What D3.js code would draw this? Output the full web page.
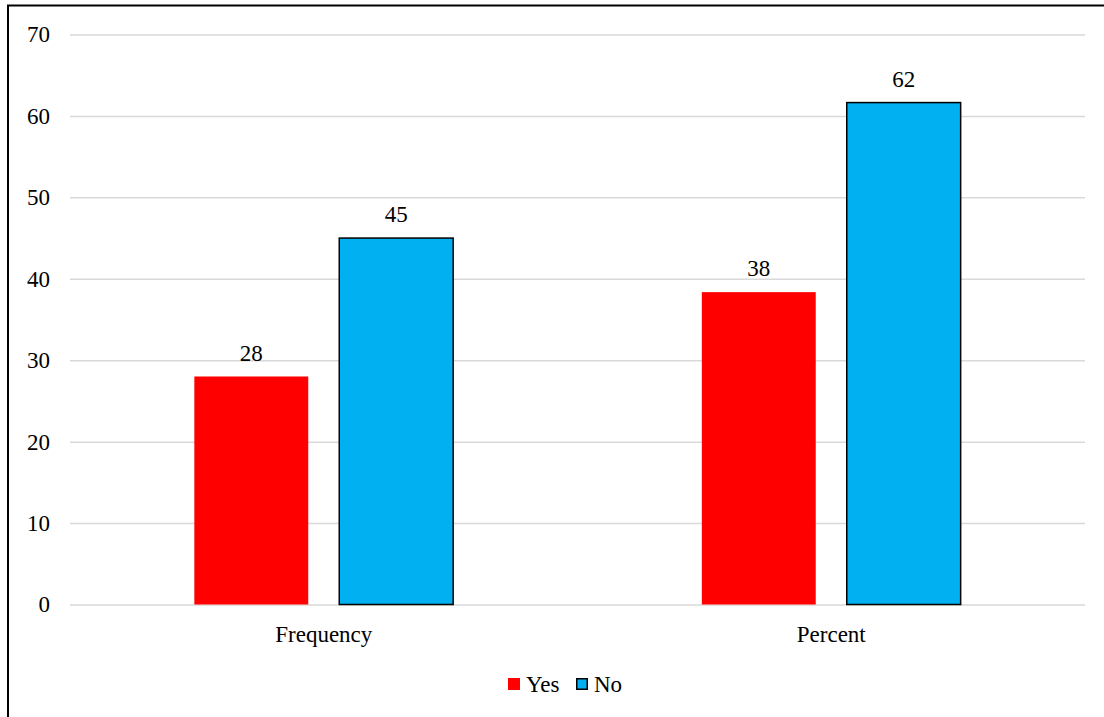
<!DOCTYPE html>
<html>
<head>
<meta charset="utf-8">
<script src="https://cdn.jsdelivr.net/npm/d3@7"></script>
<style>
  html, body { margin: 0; padding: 0; background: #fff; }
  svg { display: block; }
  svg text { font-family: "Liberation Serif", "Times New Roman", serif; fill: #000; }
</style>
</head>
<body>
<svg id="chart" width="1104" height="717"></svg>
<script>
// Categories, series and tick labels
const categories = ["Frequency", "Percent"];
const seriesNames = ["Yes", "No"];
const yesValues = [28, 38.36];
const noValues = [45, 61.64];
const yTicks = [0, 10, 20, 30, 40, 50, 60, 70];
const seriesColors = ["#FF0000", "#00B0F0"];

const rows = categories.map((c, i) => ({
  category: c,
  values: [
    { key: seriesNames[0], value: yesValues[i] },
    { key: seriesNames[1], value: noValues[i] }
  ]
}));

const W = 1104, H = 717;
const FONT = '"Liberation Serif", "Times New Roman", serif';
const FS = 23;
const margin = { left: 70, right: 19, top: 34.5, bottom: 112.5 };
const svg = d3.select("#chart");

// Outer frame (right and bottom edges run past the canvas)
svg.append("rect")
  .attr("x", 8).attr("y", 5.5)
  .attr("width", 1200).attr("height", 800)
  .attr("fill", "none").attr("stroke", "#000").attr("stroke-width", 2);

const x0 = d3.scaleBand()
  .domain(categories)
  .range([margin.left, W - margin.right])
  .paddingInner(0.49)
  .paddingOuter(0.245);

const x1 = d3.scaleBand()
  .domain(seriesNames)
  .range([0, x0.bandwidth()])
  .paddingInner(0.214);

const y = d3.scaleLinear()
  .domain([0, 70])
  .range([H - margin.bottom, margin.top]);

const color = d3.scaleOrdinal().domain(seriesNames).range(seriesColors);

// Gridlines and y-axis labels
const yAxis = d3.axisLeft(y)
  .tickValues(yTicks)
  .tickSize(-(W - margin.left - margin.right))
  .tickPadding(20)
  .tickFormat(d3.format("d"));

const gy = svg.append("g")
  .attr("transform", `translate(${margin.left},0)`)
  .call(yAxis);
gy.select(".domain").remove();
gy.selectAll(".tick line").attr("stroke", "#d9d9d9").attr("stroke-width", 1.5);
gy.selectAll(".tick text")
  .style("font-family", FONT)
  .style("font-size", FS + "px")
  .attr("fill", "#000");

// Bars
const groups = svg.append("g").selectAll("g")
  .data(rows)
  .join("g")
  .attr("transform", d => `translate(${x0(d.category)},0)`);

groups.selectAll("rect")
  .data(d => d.values)
  .join("rect")
  .attr("x", d => x1(d.key))
  .attr("y", d => y(d.value))
  .attr("width", x1.bandwidth())
  .attr("height", d => y(0) - y(d.value))
  .attr("fill", d => color(d.key))
  .attr("stroke", d => d.key === "No" ? "#000" : "none")
  .attr("stroke-width", 1.5);

// Value labels
groups.selectAll("text.val")
  .data(d => d.values)
  .join("text")
  .attr("class", "val")
  .attr("x", d => x1(d.key) + x1.bandwidth() / 2)
  .attr("y", d => y(d.value) - 16)
  .attr("text-anchor", "middle")
  .style("font-family", FONT)
  .style("font-size", FS + "px")
  .text(d => d3.format(".0f")(d.value));

// Category axis labels
const xAxis = d3.axisBottom(x0).tickSize(0).tickPadding(21);
const gx = svg.append("g")
  .attr("transform", `translate(0,${y(0)})`)
  .call(xAxis);
gx.select(".domain").remove();
gx.selectAll(".tick text")
  .style("font-family", FONT)
  .style("font-size", FS + "px")
  .attr("fill", "#000");

// Legend
const legend = svg.append("g").attr("transform", "translate(508,678)");
const legendOffsets = [0, 68];
const items = legend.selectAll("g")
  .data(seriesNames)
  .join("g")
  .attr("transform", (d, i) => `translate(${legendOffsets[i]},0)`);
items.append("rect")
  .attr("x", d => d === "No" ? 0.75 : 0)
  .attr("y", d => d === "No" ? 0.75 : 0)
  .attr("width", d => d === "No" ? 10.5 : 12)
  .attr("height", d => d === "No" ? 10.5 : 12)
  .attr("fill", d => color(d))
  .attr("stroke", d => d === "No" ? "#000" : "none")
  .attr("stroke-width", 1.5);
items.append("text")
  .attr("x", 18)
  .attr("y", 14)
  .style("font-family", FONT)
  .style("font-size", FS + "px")
  .text(d => d);
</script>
</body>
</html>
